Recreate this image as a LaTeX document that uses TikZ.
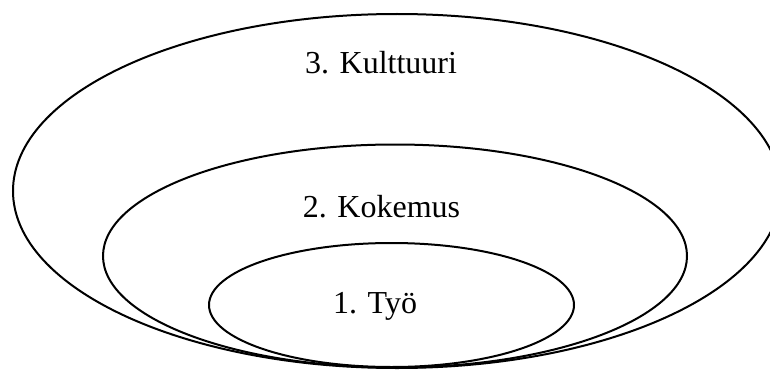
\documentclass[tikz,border=0pt]{standalone}
\usepackage{fontspec}
\setmainfont{Liberation Serif}
\begin{document}
\begin{tikzpicture}[x=1pt,y=-1pt,
  ring/.style={draw=black,line width=2pt},
  lbl/.style={anchor=base,inner sep=0pt,font=\fontsize{32}{36}\selectfont}]
\useasboundingbox (0,0) rectangle (770,369);
\begin{scope}
\clip (0,0) rectangle (770,369);
\draw[ring] (397,191) ellipse [x radius=384,y radius=177];
\draw[ring] (395,256) ellipse [x radius=292,y radius=111.5];
\draw[ring] (391.5,305) ellipse [x radius=182.5,y radius=62];
\end{scope}
\node[lbl] (k3) at (381,73) {3. Kulttuuri};
\node[lbl] (k2) at (381.5,217) {2. Kokemus};
\node[lbl] (k1) at (375,313) {1. Työ};
\end{tikzpicture}
\end{document}
